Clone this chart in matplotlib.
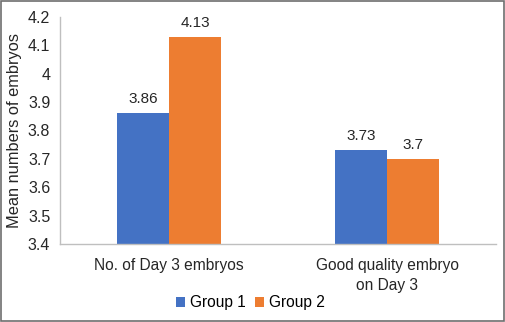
import numpy as np
import matplotlib.pyplot as plt

plt.rcParams['font.family'] = ['Liberation Sans', 'DejaVu Sans']

categories = ['No. of Day 3 embryos', 'Good quality embryo\non Day 3']
group1 = [3.86, 3.73]
group2 = [4.13, 3.70]
yticks = [3.4, 3.5, 3.6, 3.7, 3.8, 3.9, 4.0, 4.1, 4.2]
ytick_labels = ['3.4', '3.5', '3.6', '3.7', '3.8', '3.9', '4', '4.1', '4.2']

blue = '#4472C4'
orange = '#ED7D31'

fig = plt.figure(figsize=(5.05, 3.22), dpi=100)
ax = fig.add_axes([60 / 505, 1 - 244 / 322, 436 / 505, 227 / 322])

x = np.arange(len(categories))
w = 0.24
b1 = ax.bar(x - w / 2, group1, w, color=blue, label='Group 1')
b2 = ax.bar(x + w / 2, group2, w, color=orange, label='Group 2')

for bars, vals in [(b1, group1), (b2, group2)]:
    for rect, v in zip(bars, vals):
        ax.text(rect.get_x() + rect.get_width() / 2, v + 0.025, f'{v:g}',
                ha='center', va='bottom', fontsize=11, color='#262626')

ax.set_xlim(-0.5, 1.5)
ax.set_ylim(3.4, 4.2)
ax.set_yticks(yticks)
ax.set_yticklabels(ytick_labels)
ax.set_xticks(x)
ax.set_xticklabels(categories, linespacing=1.45)
ax.tick_params(axis='both', length=0, colors='#262626')
ax.tick_params(axis='y', pad=7, labelsize=11.5)
ax.tick_params(axis='x', pad=10, labelsize=11.2)
ax.set_ylabel('Mean numbers of embryos', fontsize=11.8, color='#262626')
ax.yaxis.set_label_coords(-38 / 436, 0.5)

for s in ['top', 'right']:
    ax.spines[s].set_visible(False)
for s in ['left', 'bottom']:
    ax.spines[s].set_color('#BFBFBF')
    ax.spines[s].set_linewidth(1.0)

fig.legend(handles=[b1, b2], loc='center', bbox_to_anchor=(250 / 505, 1 - 303 / 322),
           ncol=2, frameon=False, fontsize=11.2, handlelength=0.6, handleheight=0.6,
           handletextpad=0.3, columnspacing=0.6)

border = plt.Rectangle((0.001, 0.002), 0.997, 0.995, transform=fig.transFigure,
                       fill=False, edgecolor='#6E6E6E', linewidth=1.2)
fig.patches.append(border)

fig.savefig('out.png', dpi=100)
